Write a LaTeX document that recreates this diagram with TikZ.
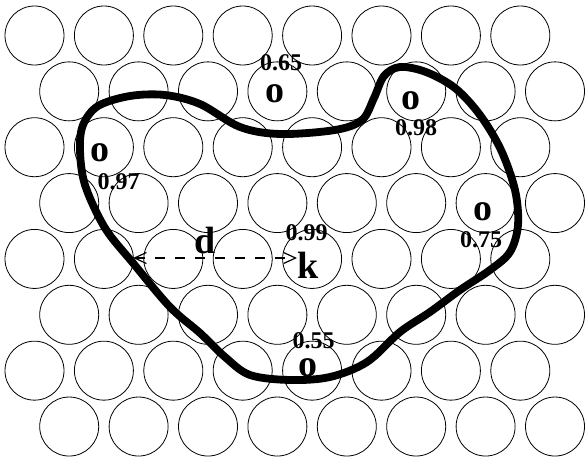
\documentclass[tikz,border=0pt]{standalone}
\usepackage{fontspec}
\setmainfont{Liberation Serif}
\usetikzlibrary{arrows.meta}
\begin{document}
\begin{tikzpicture}[x=1pt,y=-1pt,
  cell/.style={draw=black,line width=0.8pt},
  blob/.style={draw=black,line width=7.8pt,line join=round},
  lbl/.style={inner sep=0pt,font=\fontsize{38}{38}\selectfont\bfseries},
  val/.style={inner sep=0pt,font=\fontsize{24}{24}\selectfont\bfseries},
  dist/.style={line width=1.8pt,dash pattern=on 10pt off 10pt,
     {Straight Barb[length=12pt,width=11pt,line width=1.2pt]}-{Straight Barb[length=12pt,width=11pt,line width=1.2pt]}}]
\useasboundingbox (0,0) rectangle (586,458);
% grid of circles
\foreach \r in {0,...,7}{
  \pgfmathsetmacro{\yy}{35.5+55.86*\r}
  \pgfmathsetmacro{\xo}{mod(\r,2)==0 ? 34.5 : 69.2}
  \foreach \c in {0,...,7}{
    \draw[cell] ({\xo+69.4*\c},\yy) circle (29.5);
  }
}
% blob
\draw[blob] plot[smooth cycle,tension=0.55] coordinates {
 (83,125) (98,106) (130,96) (165,95) (200,104) (240,127) (280,134)
 (335,130) (362,120) (374,98) (384,76) (400,67) (426,72) (455,88)
 (480,115) (501,150) (515,190) (518,225) (510,252) (490,270)
 (460,290) (430,312) (400,332) (367,362) (330,377) (290,380)
 (250,375) (225,357) (200,333) (170,307) (133,263) (105,228)
 (85,185) (80,150)};
% labels
\node[val] (v65) at (281,63) {0.65};
\node[lbl] (o65) at (274.5,94) {o};
\node[lbl] (o98) at (411,101) {o};
\node[val] (v98) at (416,128) {0.98};
\node[lbl] (o97) at (100,153) {o};
\node[val] (v97) at (118.5,182) {0.97};
\node[lbl] (o75) at (483,212) {o};
\node[val] (v75) at (481,240) {0.75};
\node[lbl] (d) at (205,240) {d};
\node[val] (v99) at (306.5,232.5) {0.99};
\node[lbl] (k) at (308.5,265) {k};
\node[val] (v55) at (313.5,340.5) {0.55};
\node[lbl] (o55) at (307.5,368) {o};
% distance arrow
\coordinate (dL) at (133,258);
\coordinate (dR) at (297,258);
\draw[dist] (dL) -- (dR);
\end{tikzpicture}
\end{document}
